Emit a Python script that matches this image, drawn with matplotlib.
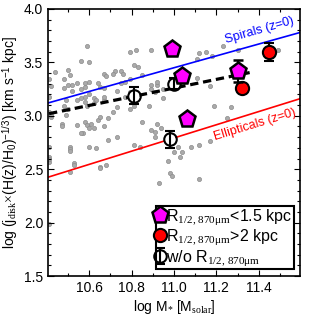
import matplotlib
matplotlib.use("Agg")
import matplotlib.pyplot as plt
from matplotlib.ticker import MultipleLocator
from matplotlib.lines import Line2D

plt.rcParams['font.family'] = ['Liberation Sans', 'DejaVu Sans']
plt.rcParams['mathtext.fontset'] = 'custom'
plt.rcParams['mathtext.rm'] = 'Liberation Serif'
plt.rcParams['mathtext.it'] = 'Liberation Serif:italic'
plt.rcParams['mathtext.sf'] = 'Liberation Sans'

# ---- data ----
bg_x = [10.59, 10.56, 10.60, 10.44, 10.50, 10.48, 10.51, 10.41, 10.42, 10.41,
        10.48, 10.50, 10.52, 10.54, 10.58, 10.58, 10.56, 10.58, 10.60, 10.60,
        10.52, 10.56, 10.58, 10.62, 10.64, 10.65, 10.67, 10.67, 10.68, 10.63,
        10.67, 10.67, 10.54, 10.59, 10.62, 10.49, 10.50, 10.49, 10.48, 10.41,
        10.42, 10.42, 10.47, 10.47, 10.54, 10.58, 10.59, 10.60, 10.57, 10.56,
        10.61, 10.62, 10.51, 10.51, 10.60, 10.63, 10.41, 10.41, 10.64, 10.65,
        10.67, 10.69, 10.71, 10.73, 10.73, 10.72, 10.75, 10.71, 10.76, 10.79,
        10.75, 10.77, 10.79, 10.77, 10.79, 10.81, 10.85, 10.79, 10.82, 10.81,
        10.83, 10.89, 10.81, 10.84, 10.91, 10.88, 10.92, 10.91, 10.85, 10.69,
        10.73, 10.65, 10.68, 10.65, 11.12, 11.15, 11.11, 11.18, 11.30, 11.23,
        11.49, 10.92, 10.89, 10.89, 10.95, 10.95, 10.99, 11.11, 11.17, 11.19,
        11.27, 11.25, 10.89, 10.92, 10.94, 10.91, 11.02, 11.04, 11.08, 11.12,
        11.17, 11.03, 11.00, 10.97, 10.98, 10.99, 10.93, 11.12, 10.41, 10.41,
        10.51, 10.53, 10.53, 10.51, 10.41]
bg_y = [3.65, 3.51, 3.50, 3.41, 3.43, 3.34, 3.38, 3.34, 3.28, 3.18,
        3.26, 3.29, 3.29, 3.31, 3.31, 3.27, 3.25, 3.18, 3.32, 3.20,
        3.23, 3.17, 3.13, 3.17, 3.31, 3.27, 3.26, 3.39, 3.37, 3.15,
        3.15, 3.18, 3.15, 3.09, 3.12, 3.15, 3.06, 3.01, 3.09, 3.04,
        2.99, 3.01, 2.92, 2.90, 2.91, 2.94, 2.91, 2.89, 2.84, 2.84,
        2.92, 2.89, 2.71, 2.69, 2.71, 2.70, 2.71, 2.61, 2.96, 2.99,
        2.90, 2.98, 3.04, 3.08, 3.23, 3.42, 3.42, 3.39, 3.39, 3.34,
        3.31, 3.32, 3.22, 3.18, 3.06, 3.09, 2.94, 3.60, 3.62, 3.48,
        3.46, 3.62, 2.73, 2.71, 2.85, 3.09, 3.29, 3.22, 3.38, 2.77,
        2.80, 2.52, 2.54, 2.51, 3.59, 3.60, 3.53, 3.56, 3.62, 3.65,
        3.62, 3.32, 3.29, 3.25, 3.25, 3.17, 3.27, 3.35, 3.28, 3.09,
        3.08, 2.98, 2.87, 2.92, 2.89, 2.80, 2.71, 2.66, 2.71, 2.73,
        2.76, 2.61, 2.66, 2.58, 2.46, 2.44, 2.37, 2.41, 2.57, 2.60,
        2.67, 2.56, 2.54, 2.47, 1.99]

spiral_x = [10.405, 11.595]
spiral_y = [3.12, 3.78]
ellip_x = [10.405, 11.595]
ellip_y = [2.425, 3.16]
fit_x = [10.41, 11.37]
fit_y = [3.02, 3.41]

pent_x = [10.99, 11.04, 11.06, 11.30]
pent_y = [3.63, 3.37, 2.97, 3.42]
pent_err = [0.0, 0.0, 0.0, 0.10]

red_x = [11.45, 11.32]
red_y = [3.60, 3.26]
red_err = [0.085, 0.0]

open_x = [10.81, 10.98, 11.00]
open_y = [3.19, 2.78, 3.30]
open_err = [0.08, 0.08, 0.05]

# ---- figure ----
fig = plt.figure(figsize=(3.16, 3.16), dpi=100)
ax = fig.add_axes([48/316, 40/316, 252/316, 267/316])

ax.scatter(bg_x, bg_y, s=9, facecolor='#aaaaaa', edgecolor='#8c8c8c',
           linewidth=0.5, zorder=1)

ax.plot(spiral_x, spiral_y, color='blue', lw=1.2, zorder=2)
ax.plot(ellip_x, ellip_y, color='red', lw=1.2, zorder=2)
ax.plot(fit_x, fit_y, color='black', lw=2.3, dashes=(2.6, 1.5), zorder=3)

ax.text(11.405, 3.80, 'Spirals (z=0)', color='blue', fontsize=9,
        rotation=16, ha='center', va='center', zorder=4)
ax.text(11.38, 2.92, 'Ellipticals (z=0)', color='red', fontsize=9,
        rotation=17, ha='center', va='center', zorder=4)

# open circles
ax.scatter(open_x, open_y, s=70, facecolor='white', edgecolor='none', zorder=4)
h_open = ax.errorbar(open_x, open_y, yerr=open_err, fmt='o', ms=9,
                     mfc='none', mec='black', mew=1.5, ecolor='black',
                     elinewidth=1.5, capsize=3.5, capthick=1.5, zorder=5)

# red circles
h_red = ax.errorbar(red_x, red_y, yerr=red_err, fmt='o', ms=9.5,
                    mfc='red', mec='black', mew=1.5, ecolor='black',
                    elinewidth=1.5, capsize=3.5, capthick=1.5, zorder=6)

# pentagons
h_pent = ax.errorbar(pent_x, pent_y, yerr=pent_err, fmt='p', ms=12.5,
                     mfc='#ff00ff', mec='black', mew=1.8, ecolor='black',
                     elinewidth=1.5, capsize=3.5, capthick=1.5, zorder=7)

ax.set_xlim(10.405, 11.595)
ax.set_ylim(1.5, 4.0)
ax.xaxis.set_major_locator(MultipleLocator(0.2))
ax.xaxis.set_minor_locator(MultipleLocator(0.1))
ax.yaxis.set_major_locator(MultipleLocator(0.5))
ax.yaxis.set_minor_locator(MultipleLocator(0.1))
ax.tick_params(which='both', direction='in', top=True, right=True,
               labelsize=10, width=0.8)
ax.tick_params(which='major', length=4.5)
ax.tick_params(which='minor', length=2.5)
for s in ax.spines.values():
    s.set_linewidth(1.2)

ax.set_xlabel(r'log M$_{*}$ [M$_{\mathrm{solar}}$]', fontsize=10, labelpad=2)
ax.set_ylabel(r'log (j$_{\mathrm{disk}}$$\times$(H(z)/H$_{\mathsf{0}}$)$^{\mathsf{-1/3}}$) [km s$^{\mathsf{-1}}$ kpc]',
              fontsize=10, labelpad=2)

lh_pent = Line2D([], [], marker='p', ls='none', ms=12.5, mfc='#ff00ff',
                 mec='black', mew=1.8)
lh_red = Line2D([], [], marker='o', ls='none', ms=9.5, mfc='red',
                mec='black', mew=1.5)
leg = ax.legend([lh_pent, lh_red, h_open],
                [r'R$_{\mathrm{1/2,\,870μm}}$<1.5 kpc',
                 r'R$_{\mathrm{1/2,\,870μm}}$>2 kpc',
                 r'w/o R$_{\mathrm{1/2,\,870μm}}$'],
                loc='lower right', bbox_to_anchor=(0.975, 0.025),
                fontsize=11.5, frameon=True, fancybox=False, framealpha=1,
                edgecolor='black', handlelength=0.4, handletextpad=0.15,
                borderpad=0.1, labelspacing=0.05, borderaxespad=0)
leg.get_frame().set_linewidth(1.5)
leg.set_zorder(10)

fig.savefig('out.png', dpi=100)
